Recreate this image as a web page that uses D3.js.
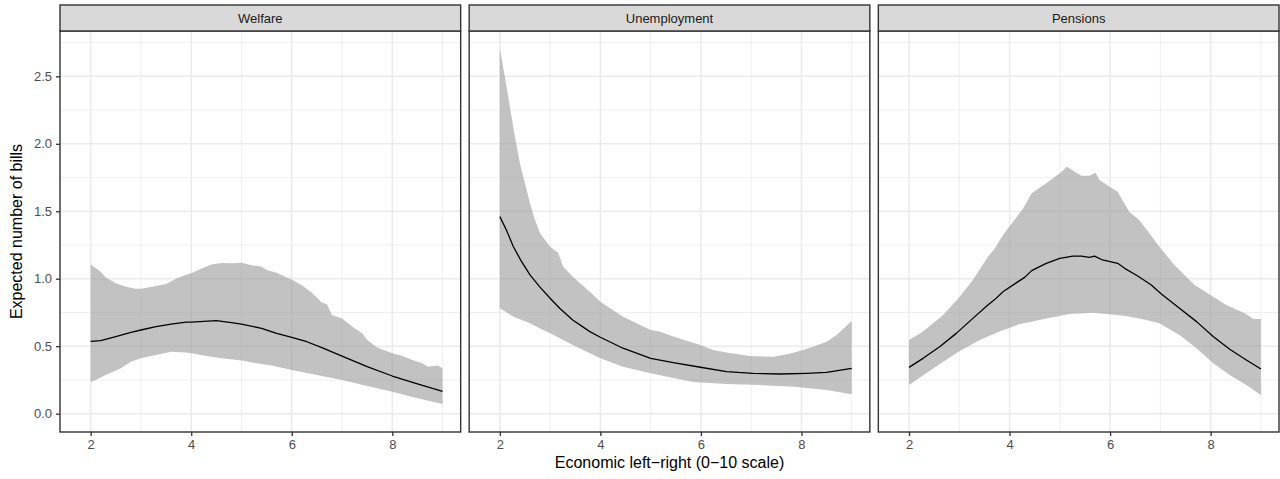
<!DOCTYPE html>
<html><head><meta charset="utf-8">
<script src="https://cdn.jsdelivr.net/npm/d3@7"></script>
<style>body{margin:0;background:#fff}svg{display:block}text{font-family:"Liberation Sans",Arial,Helvetica,sans-serif}</style>
</head><body><svg id="c" width="1280" height="479"></svg>
<script>
const panels = ["Welfare", "Unemployment", "Pensions"];
const xTicks = [2, 4, 6, 8];
const xMinor = [3, 5, 7, 9];
const yTicks = [0, 0.5, 1.0, 1.5, 2.0, 2.5];
const yMinor = [0.25, 0.75, 1.25, 1.75, 2.25, 2.75];
const xTitle = "Economic left\u2212right (0\u221210 scale)";
const yTitle = "Expected number of bills";

const welfareUpper = [[2,1.106],[2.2,1.052],[2.3,1.01],[2.5,0.966],[2.7,0.94],[2.9,0.926],[3.0,0.926],[3.3,0.946],[3.5,0.96],[3.7,1.0],[3.9,1.03],[4.0,1.04],[4.2,1.074],[4.4,1.106],[4.6,1.116],[4.8,1.114],[5.0,1.119],[5.2,1.10],[5.4,1.089],[5.5,1.064],[5.7,1.045],[5.9,1.01],[6.0,0.995],[6.2,0.951],[6.4,0.896],[6.6,0.822],[6.7,0.81],[6.8,0.731],[7.0,0.706],[7.2,0.645],[7.4,0.595],[7.5,0.546],[7.7,0.491],[8.0,0.447],[8.2,0.427],[8.4,0.398],[8.6,0.373],[8.7,0.348],[8.9,0.356],[9.0,0.336]];
const welfareLower = [[2,0.232],[2.3,0.286],[2.6,0.336],[2.8,0.385],[3.0,0.41],[3.3,0.435],[3.6,0.459],[3.9,0.454],[4.0,0.447],[4.3,0.427],[4.6,0.41],[5.0,0.393],[5.3,0.373],[5.6,0.356],[6.0,0.324],[6.5,0.286],[7.0,0.249],[7.5,0.205],[8.0,0.163],[8.5,0.114],[9.0,0.072]];
const welfareFit = [[2,0.536],[2.2,0.541],[2.5,0.57],[2.8,0.603],[3.0,0.62],[3.3,0.645],[3.6,0.664],[3.9,0.679],[4.0,0.679],[4.5,0.689],[4.8,0.674],[5.0,0.664],[5.4,0.632],[5.7,0.595],[6.0,0.566],[6.3,0.533],[6.6,0.489],[7.0,0.427],[7.5,0.348],[8.0,0.279],[8.5,0.22],[9.0,0.165]];

const unempUpper = [[2.0,2.707],[2.1,2.497],[2.2,2.275],[2.3,2.052],[2.4,1.855],[2.5,1.707],[2.6,1.559],[2.7,1.435],[2.8,1.337],[3.0,1.237],[3.16,1.193],[3.26,1.089],[3.45,1.015],[3.79,0.904],[4.0,0.83],[4.45,0.719],[5.0,0.62],[5.18,0.608],[5.45,0.571],[5.99,0.509],[6.24,0.472],[6.51,0.454],[6.97,0.427],[7.44,0.422],[7.64,0.435],[7.84,0.452],[8.03,0.472],[8.23,0.496],[8.5,0.533],[8.7,0.583],[9.0,0.687]];
const unempLower = [[2.0,0.781],[2.27,0.719],[2.6,0.67],[2.79,0.633],[3.0,0.596],[3.45,0.509],[4.0,0.41],[4.45,0.348],[5.0,0.299],[5.45,0.265],[5.85,0.235],[6.51,0.22],[7.17,0.212],[7.84,0.2],[8.5,0.175],[9.0,0.143]];
const unempFit = [[2.0,1.46],[2.13,1.361],[2.27,1.237],[2.43,1.128],[2.6,1.028],[2.79,0.941],[3.0,0.855],[3.19,0.781],[3.45,0.694],[3.79,0.608],[4.0,0.566],[4.45,0.485],[5.0,0.41],[5.45,0.378],[5.99,0.344],[6.51,0.311],[7.04,0.299],[7.57,0.294],[8.1,0.299],[8.5,0.306],[9.0,0.336]];

const pensUpper = [[2.0,0.546],[2.28,0.608],[2.68,0.731],[3.01,0.867],[3.27,0.99],[3.57,1.163],[3.71,1.225],[3.87,1.324],[4.07,1.423],[4.27,1.521],[4.44,1.633],[4.73,1.707],[5.0,1.781],[5.14,1.83],[5.43,1.763],[5.59,1.763],[5.71,1.786],[5.79,1.732],[5.99,1.682],[6.15,1.645],[6.38,1.497],[6.58,1.435],[6.98,1.237],[7.28,1.102],[7.68,0.954],[8.05,0.867],[8.31,0.805],[8.68,0.744],[8.85,0.702],[9.0,0.702]];
const pensLower = [[2.0,0.212],[2.34,0.299],[2.68,0.385],[3.01,0.464],[3.41,0.546],[3.8,0.608],[4.2,0.664],[4.44,0.682],[4.73,0.706],[5.2,0.738],[5.66,0.748],[5.99,0.736],[6.32,0.724],[6.72,0.694],[6.98,0.67],[7.38,0.583],[7.72,0.485],[8.05,0.373],[8.38,0.287],[8.71,0.213],[9.0,0.139]];
const pensFit = [[2.0,0.343],[2.28,0.41],[2.61,0.496],[2.94,0.595],[3.27,0.706],[3.57,0.805],[3.71,0.847],[3.87,0.904],[4.14,0.971],[4.3,1.01],[4.44,1.06],[4.73,1.114],[5.0,1.151],[5.26,1.168],[5.43,1.168],[5.59,1.158],[5.69,1.168],[5.85,1.139],[6.15,1.114],[6.29,1.077],[6.55,1.02],[6.82,0.954],[7.02,0.887],[7.38,0.781],[7.72,0.682],[8.05,0.571],[8.38,0.477],[8.71,0.398],[9.0,0.331]];

const series = [
  {upper: welfareUpper, lower: welfareLower, fit: welfareFit},
  {upper: unempUpper, lower: unempLower, fit: unempFit},
  {upper: pensUpper, lower: pensLower, fit: pensFit}
];

const svg = d3.select("#c");
const plotLeft = 60, plotRight = 1279, gap = 8.5;
const pw = (plotRight - plotLeft - 2 * gap) / 3;
const stripTop = 5, panelTop = 31, panelBottom = 432;
const x = d3.scaleLinear().domain([1.39, 9.36]).range([0, pw]);
const y = d3.scaleLinear().domain([-0.136, 2.836]).range([panelBottom, panelTop]);

panels.forEach((name, i) => {
  const g = svg.append("g").attr("transform", `translate(${plotLeft + i * (pw + gap)},0)`);
  const clipId = "clip" + i;
  g.append("clipPath").attr("id", clipId).append("rect").attr("x", 0).attr("y", panelTop).attr("width", pw).attr("height", panelBottom - panelTop);
  const grid = g.append("g").attr("clip-path", `url(#${clipId})`);
  grid.selectAll(".ymin").data(yMinor).enter().append("line")
    .attr("x1", 0).attr("x2", pw).attr("y1", d => y(d)).attr("y2", d => y(d))
    .attr("stroke", "#EBEBEB").attr("stroke-width", 0.8);
  grid.selectAll(".xmin").data(xMinor).enter().append("line")
    .attr("y1", panelTop).attr("y2", panelBottom).attr("x1", d => x(d)).attr("x2", d => x(d))
    .attr("stroke", "#EBEBEB").attr("stroke-width", 0.8);
  grid.selectAll(".ymaj").data(yTicks).enter().append("line")
    .attr("x1", 0).attr("x2", pw).attr("y1", d => y(d)).attr("y2", d => y(d))
    .attr("stroke", "#EBEBEB").attr("stroke-width", 1.5);
  grid.selectAll(".xmaj").data(xTicks).enter().append("line")
    .attr("y1", panelTop).attr("y2", panelBottom).attr("x1", d => x(d)).attr("x2", d => x(d))
    .attr("stroke", "#EBEBEB").attr("stroke-width", 1.5);

  const s = series[i];
  const poly = s.upper.concat(s.lower.slice().reverse());
  const lineGen = d3.line().x(d => x(d[0])).y(d => y(d[1]));
  grid.append("path").attr("d", lineGen(poly) + "Z")
    .attr("fill", "#999999").attr("fill-opacity", 0.6).attr("stroke", "none");
  grid.append("path").attr("d", lineGen(s.fit))
    .attr("fill", "none").attr("stroke", "#000").attr("stroke-width", 1.3).attr("stroke-linejoin", "round");

  g.append("rect").attr("x", 0).attr("y", panelTop).attr("width", pw).attr("height", panelBottom - panelTop)
    .attr("fill", "none").attr("stroke", "#333333").attr("stroke-width", 1.4);
  g.append("rect").attr("x", 0).attr("y", stripTop).attr("width", pw).attr("height", panelTop - stripTop)
    .attr("fill", "#D9D9D9").attr("stroke", "#333333").attr("stroke-width", 1.4);
  g.append("text").attr("x", pw / 2).attr("y", (stripTop + panelTop) / 2).attr("dy", "0.35em")
    .attr("text-anchor", "middle").attr("font-size", 13).attr("fill", "#1A1A1A").text(name);

  const xa = g.append("g").attr("transform", `translate(0,${panelBottom})`)
    .call(d3.axisBottom(x).tickValues(xTicks).tickSize(4).tickPadding(4).tickFormat(d3.format("d")));
  xa.select(".domain").remove();
  xa.selectAll("line").attr("stroke", "#333333").attr("stroke-width", 1.3);
  xa.selectAll("text").attr("font-size", 13).attr("fill", "#4D4D4D").attr("font-family", '"Liberation Sans",Arial,sans-serif');

  if (i === 0) {
    const ya = g.append("g")
      .call(d3.axisLeft(y).tickValues(yTicks).tickSize(4).tickPadding(4).tickFormat(d3.format(".1f")));
    ya.select(".domain").remove();
    ya.selectAll("line").attr("stroke", "#333333").attr("stroke-width", 1.3);
    ya.selectAll("text").attr("font-size", 13).attr("fill", "#4D4D4D").attr("font-family", '"Liberation Sans",Arial,sans-serif');
  }
});

svg.append("text").attr("x", (plotLeft + plotRight) / 2).attr("y", 468).attr("text-anchor", "middle")
  .attr("font-size", 16).attr("fill", "#000").text(xTitle);
svg.append("text").attr("transform", `translate(21.5,${(panelTop + panelBottom) / 2}) rotate(-90)`)
  .attr("text-anchor", "middle").attr("font-size", 16).attr("fill", "#000").text(yTitle);
</script></body></html>
